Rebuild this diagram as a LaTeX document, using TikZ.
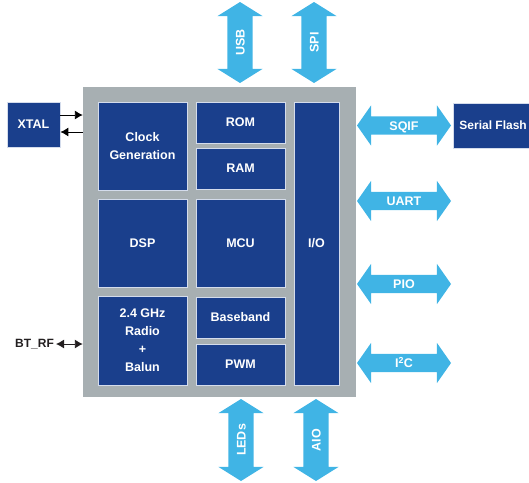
\documentclass[tikz,border=0pt]{standalone}
\usepackage{fontspec}
\setmainfont{Liberation Sans}
\usetikzlibrary{shapes.arrows, arrows.meta, calc}
\definecolor{chipgray}{HTML}{A7AFB2}
\definecolor{blockblue}{HTML}{1A3F8C}
\definecolor{busblue}{HTML}{40B4E5}
\definecolor{edgeblue}{HTML}{D4DCEC}
\definecolor{labelgray}{HTML}{231F20}
\tikzset{>={Latex[length=8pt,width=9pt]}}
\tikzset{
  block/.style={draw=edgeblue, line width=0.8pt, fill=blockblue, text=white,
    align=center, inner sep=0pt, font=\bfseries\fontsize{12.5}{18}\selectfont},
  hbus/.style={double arrow, fill=busblue, text=white,
    font=\bfseries\fontsize{12.5}{14}\selectfont,
    inner xsep=0pt, inner ysep=0pt, text height=13.5pt, text depth=4.5pt,
    double arrow head extend=11pt, double arrow tip angle=110,
    minimum height=94pt},
  vbus/.style={hbus, rotate=90, text height=17pt, text depth=8pt,
    double arrow head extend=10pt, double arrow tip angle=116,
    minimum height=81pt},
}

\begin{document}
\begin{tikzpicture}[x=1pt, y=-1pt]
\useasboundingbox (0,0) rectangle (529,482);

% chip outline
	\node[fill=chipgray,
		minimum width=273pt,
		minimum height=310pt,
		inner sep=0pt] (chip) at (219.5,242) {};

% blocks inside the chip
	\node[block, minimum width=89pt, minimum height=88pt] (clk) at (142.5,146) {Clock\\Generation};
	\node[block, minimum width=89pt, minimum height=41pt] (rom) at (240.5,122.5) {ROM};
	\node[block, minimum width=89pt, minimum height=41pt] (ram) at (240.5,168.5) {RAM};
	\node[block, minimum width=89pt, minimum height=88pt] (dsp) at (142.5,243) {DSP};
	\node[block, minimum width=89pt, minimum height=88pt] (mcu) at (240.5,243) {MCU};
	\node[block, minimum width=89pt, minimum height=89pt] (radio) at (142.5,340.5) {2.4 GHz\\Radio\\+\\Balun};
	\node[block, minimum width=89pt, minimum height=41pt] (base) at (240.5,317.5) {Baseband};
	\node[block, minimum width=89pt, minimum height=41pt] (pwm) at (240.5,364.5) {PWM};
	\node[block, minimum width=45pt, minimum height=283pt] (io) at (316.5,243.5) {I/O};

% outside parts
	\node[block, minimum width=53pt, minimum height=45pt] (xtal) at (33.5,124.5) {XTAL};
	\node[block, anchor=west, inner xsep=6pt, minimum height=45pt,
		font=\bfseries\fontsize{12}{14}\selectfont] (flash) at (453,125.5) {Serial Flash};
	\node[text=labelgray, inner sep=2pt, font=\bfseries\fontsize{12}{14}\selectfont] (btrf) at (34.5,344) {BT\_RF};

% bus arrows
	\node[vbus] (usb) at (240,42.5) {USB};
	\node[vbus] (spi) at (314,42.5) {SPI};
	\node[vbus, minimum height=82pt] (leds) at (241,440) {LEDs};
	\node[vbus, minimum height=82pt] (aio) at (316,440) {AIO};
	\node[hbus] (sqif) at (404,125.5) {SQIF};
	\node[hbus] (uart) at (404,201) {UART};
	\node[hbus] (pio) at (404,284) {PIO};
	\node[hbus] (i2c) at (404,363) {I\textsuperscript{2}C};

% signal lines
	\coordinate (xout) at ($(xtal.east)+(0,-9.5)$);
	\coordinate (xin) at ($(xtal.east)+(0,7.5)$);
	\draw[->, line width=0.9pt] (xout) -- (xout -| chip.west);
	\draw[->, line width=0.9pt] (xin -| chip.west) -- (xin);
	\draw[<->, line width=0.9pt, labelgray] (btrf.east) -- (btrf.east -| chip.west);
\end{tikzpicture}
\end{document}
